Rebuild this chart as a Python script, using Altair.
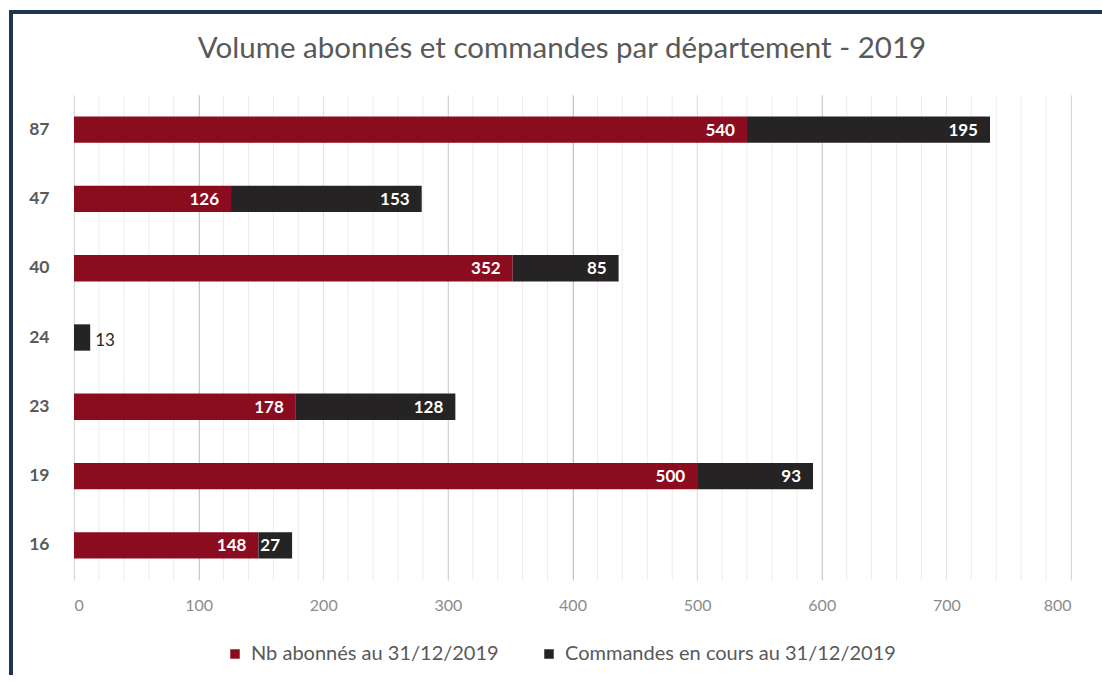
import altair as alt
import pandas as pd

departements = ["87", "47", "40", "24", "23", "19", "16"]
abonnes = [540, 126, 352, 0, 178, 500, 148]
commandes = [195, 153, 85, 13, 128, 93, 27]
series_names = ["Nb abonnés au 31/12/2019", "Commandes en cours au 31/12/2019"]
series_colors = ["#8B0B1F", "#252323"]
major_ticks = [0, 100, 200, 300, 400, 500, 600, 700, 800]
minor_ticks = list(range(0, 801, 20))
titre = "Volume abonnés et commandes par département - 2019"

rows = []
for i, d in enumerate(departements):
    rows.append({"dept": d, "serie": series_names[0], "value": abonnes[i], "ordre": 0})
    rows.append({"dept": d, "serie": series_names[1], "value": commandes[i], "ordre": 1})
df = pd.DataFrame(rows)

FONT = "Lato"
xscale = alt.Scale(domain=[0, 800], nice=False, zero=True)
yscale = alt.Scale(domain=departements, paddingInner=0.62, paddingOuter=0.31)
xaxis = alt.Axis(values=major_ticks, grid=True, gridColor="#c6c6c6", gridWidth=1,
                 domain=False, ticks=False, labelPadding=17, labelFontSize=16,
                 labelColor="#8c8c8c", labelFont=FONT, title=None)
yaxis = alt.Axis(domain=False, ticks=False, grid=False, labelPadding=25,
                 labelFontSize=17.5, labelFontWeight="bold", labelColor="#595959",
                 labelFont=FONT, title=None)

minor = alt.Chart(pd.DataFrame({"v": minor_ticks})).mark_rule(
    color="#ececec", strokeWidth=1
).encode(
    x=alt.X("v:Q", scale=xscale, axis=xaxis),
)

base = alt.Chart(df).transform_stack(
    stack="value", groupby=["dept"], as_=["start", "end"],
    sort=[alt.SortField("ordre", order="ascending")]
)

bars = base.mark_bar().encode(
    x=alt.X("start:Q", scale=xscale, axis=xaxis),
    x2="end:Q",
    y=alt.Y("dept:N", scale=yscale, sort=departements, axis=yaxis),
    color=alt.Color("serie:N",
                    scale=alt.Scale(domain=series_names, range=series_colors),
                    legend=alt.Legend(orient="none", legendX=151, legendY=549,
                                      direction="horizontal", title=None,
                                      symbolType="square", symbolSize=90,
                                      symbolStrokeWidth=0, labelFontSize=20,
                                      labelFont=FONT, labelColor="#595959",
                                      labelLimit=0, columnPadding=40, labelOffset=6)),
    order=alt.Order("ordre:Q"),
)

labels_in = base.transform_filter("datum.value >= 20").mark_text(
    align="right", baseline="middle", dx=-12, dy=1, color="white",
    fontSize=17, font=FONT, fontWeight="bold"
).encode(
    x=alt.X("end:Q", scale=xscale, axis=xaxis),
    y=alt.Y("dept:N", scale=yscale, sort=departements, axis=yaxis),
    text=alt.Text("value:Q"),
)

labels_out = base.transform_filter("datum.value > 0 && datum.value < 20").mark_text(
    align="left", baseline="middle", dx=5, dy=3, color="#262626",
    fontSize=17, font=FONT
).encode(
    x=alt.X("end:Q", scale=xscale, axis=xaxis),
    y=alt.Y("dept:N", scale=yscale, sort=departements, axis=yaxis),
    text=alt.Text("value:Q"),
)

single = alt.Data(values=[{"t": titre}])
title_mark = alt.Chart(single).mark_text(
    fontSize=29.5, font=FONT, color="#595959", align="center", baseline="middle"
).encode(x=alt.value(488), y=alt.value(-46), text="t:N")

frame_top = alt.Chart(single).mark_rule(color="#1F3352", strokeWidth=4).encode(
    x=alt.value(-63), x2=alt.value(1030), y=alt.value(-83)
)
frame_left = alt.Chart(single).mark_rule(color="#1F3352", strokeWidth=4).encode(
    x=alt.value(-63), y=alt.value(-85), y2=alt.value(580)
)

chart = alt.layer(minor, bars, labels_in, labels_out, title_mark, frame_top, frame_left).properties(
    width=997, height=485,
    padding={"left": 74, "top": 95, "right": 31, "bottom": 101},
    autosize=alt.AutoSizeParams(type="none"),
    background="white",
).configure_view(stroke=None)

chart.save("out.html", embed_options={"renderer": "svg", "actions": False})
